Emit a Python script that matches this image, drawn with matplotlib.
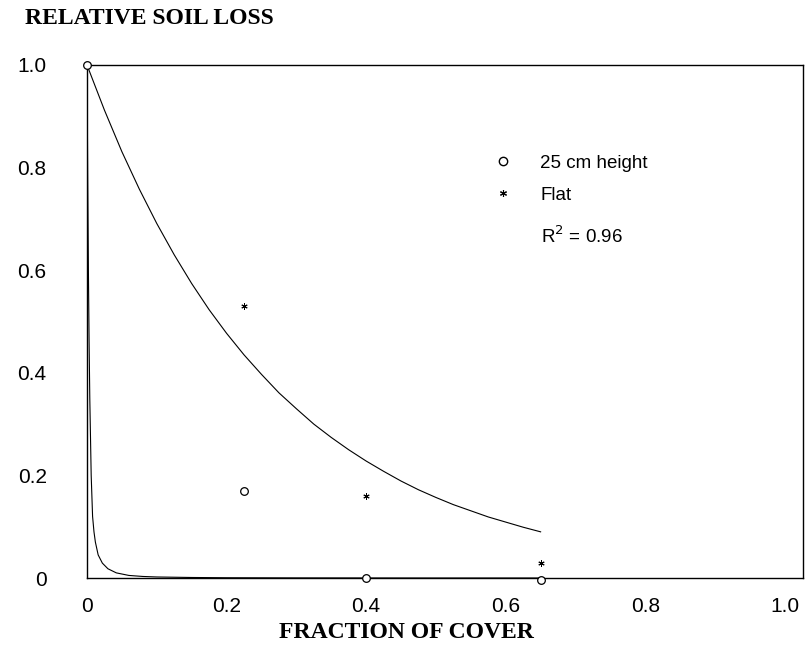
import matplotlib
matplotlib.use("Agg")
import matplotlib.pyplot as plt
from matplotlib.lines import Line2D

# measured points
cover = [0.0, 0.225, 0.40, 0.65]
loss_25cm = [1.0, 0.17, 0.0, -0.003]
cover_flat = [0.225, 0.40, 0.65]
loss_flat = [0.53, 0.16, 0.03]

# fitted curve
fit_x = [0.0, 0.025, 0.05, 0.075, 0.10, 0.125, 0.15, 0.175, 0.20, 0.225, 0.25, 0.275,
         0.30, 0.325, 0.35, 0.375, 0.40, 0.425, 0.45, 0.475, 0.50, 0.525, 0.55, 0.575,
         0.60, 0.625, 0.65]
fit_y = [1.0, 0.912, 0.831, 0.758, 0.691, 0.630, 0.574, 0.523, 0.477, 0.435, 0.397, 0.361,
         0.330, 0.300, 0.274, 0.250, 0.228, 0.208, 0.189, 0.172, 0.157, 0.143, 0.131, 0.119,
         0.109, 0.099, 0.090]

# steep curve for the 25 cm data
steep_x = [0.0, 0.001, 0.002, 0.003, 0.004, 0.006, 0.008, 0.010, 0.012, 0.016, 0.022,
           0.030, 0.042, 0.060, 0.08, 0.10, 0.15, 0.20, 0.30, 0.40, 0.50, 0.65]
steep_y = [1.0, 0.78, 0.60, 0.46, 0.35, 0.20, 0.12, 0.09, 0.07, 0.045, 0.029,
           0.018, 0.010, 0.005, 0.003, 0.002, 0.001, 0.0005, 0.0002, 0.0001, 0.0, 0.0]

xticks = [0, 0.2, 0.4, 0.6, 0.8, 1.0]
xtick_labels = ["0", "0.2", "0.4", "0.6", "0.8", "1.0"]
yticks = [0, 0.2, 0.4, 0.6, 0.8, 1.0]
ytick_labels = ["0", "0.2", "0.4", "0.6", "0.8", "1.0"]

W, H = 809, 661
fig = plt.figure(figsize=(W / 100, H / 100), dpi=100)
ax = fig.add_axes([87 / W, 1 - 578 / H, (803 - 87) / W, (578 - 65) / H])

ax.plot(fit_x, fit_y, color="black", lw=0.8)
ax.plot(steep_x, steep_y, color="black", lw=0.8)
ax.plot(cover, loss_25cm, ls="none", marker="o", ms=5.5, mfc="white", mec="black", mew=0.9,
        clip_on=False, zorder=3)
ax.plot(cover_flat, loss_flat, ls="none", marker=(6, 2, 0), ms=4.5, color="black", mew=0.7,
        clip_on=False, zorder=3)

ax.set_xlim(0, 1.026)
ax.set_ylim(0, 1.0)
ax.set_xticks(xticks)
ax.set_xticklabels(xtick_labels, fontfamily="Liberation Sans", fontsize=15)
ax.set_yticks(yticks)
ax.set_yticklabels(ytick_labels, fontfamily="Liberation Sans", fontsize=15)
ax.tick_params(axis="x", length=0, pad=14)
ax.tick_params(axis="y", length=0, pad=29)
for s in ax.spines.values():
    s.set_linewidth(1.0)

handles = [
    Line2D([], [], ls="none", marker="o", ms=6, mfc="white", mec="black", mew=1.0),
    Line2D([], [], ls="none", marker=(6, 2, 0), ms=5, color="black", mew=0.8),
]
ax.legend(handles, ["25 cm height", "Flat"], loc="upper left",
          bbox_to_anchor=((482 - 87) / (803 - 87), (578 - 145) / (578 - 65)),
          frameon=False, handlelength=1.2, handletextpad=1.4, labelspacing=0.8,
          borderpad=0, prop={"family": "Liberation Sans", "size": 13.5})
ax.text((541 - 87) / (803 - 87), (578 - 236) / (578 - 65), "R$^2$ = 0.96",
        transform=ax.transAxes, fontfamily="Liberation Sans", fontsize=13.5, va="center")

fig.text(25 / W, 1 - 18 / H, "RELATIVE SOIL LOSS", fontfamily="Liberation Serif",
         fontweight="bold", fontsize=17, va="center", ha="left")
fig.text(406 / W, 1 - 632 / H, "FRACTION OF COVER", fontfamily="Liberation Serif",
         fontweight="bold", fontsize=17, va="center", ha="center")

fig.savefig("out.png", dpi=100)
